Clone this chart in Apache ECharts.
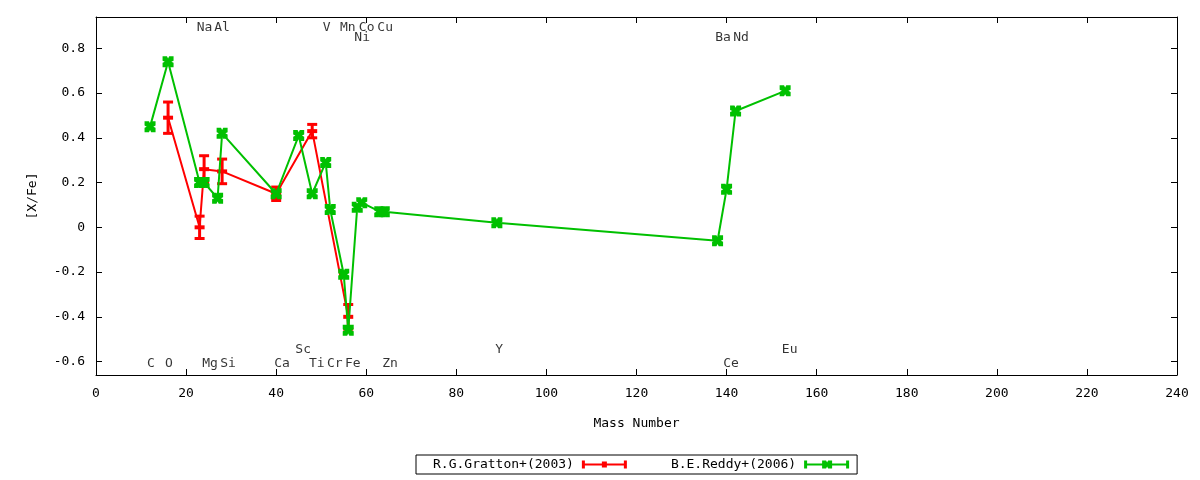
<!DOCTYPE html>
<html><head><meta charset="utf-8">
<script src="https://cdn.jsdelivr.net/npm/echarts@6/dist/echarts.min.js"></script>
<style>html,body{margin:0;padding:0;background:#fff}#c{width:1200px;height:480px}</style>
</head><body><div id="c"></div>
<script>
// Reddy+ (2006)
const greenMass = [12,16,23,24,27,28,40,45,48,51,52,55,56,58,59,63,64,89,138,140,142,153];
const greenVal  = [0.45,0.74,0.20,0.20,0.13,0.42,0.15,0.41,0.15,0.29,0.08,-0.21,-0.46,0.09,0.11,0.07,0.07,0.02,-0.06,0.17,0.52,0.61];
// Gratton+ (2003)
const redMass = [16,23,24,28,40,48,56];
const redVal  = [0.49,0.00,0.26,0.25,0.15,0.43,-0.40];
const redErr  = [0.07,0.05,0.06,0.055,0.03,0.03,0.055];
// element labels
const labelNames = ['Na','Al','V','Mn','Co','Cu','Ni','Ba','Nd','Sc','Y','Eu','C','O','Mg','Si','Ca','Ti','Cr','Fe','Zn','Ce'];
const labelX = [24.1,28.0,51.2,55.9,60.1,64.2,59.1,139.2,143.2,46,89.5,154,12.2,16.2,25.3,29.3,41.3,49,53,57,65.3,141];
const labelY = [0.894,0.894,0.894,0.894,0.894,0.894,0.849,0.849,0.849,-0.545,-0.545,-0.545,-0.608,-0.608,-0.608,-0.608,-0.608,-0.608,-0.608,-0.608,-0.608,-0.608];
const yTicks = [-0.6,-0.4,-0.2,0,0.2,0.4,0.6,0.8];

const FONT = 'DejaVu Sans Mono';
const RED = '#ff0000', GREEN = '#00c000';
const greenSym = 'path://M0,0 L4,0 L5,2 L6,0 L10,0 L10,4 L8,5 L10,6 L10,10 L6,10 L5,8 L4,10 L0,10 L0,6 L2,5 L0,4 Z';
const redIcon = 'path://M0,3h45v2h-45z M0,0h3v8h-3z M42,0h3v8h-3z M20,1h5v6h-5z';
const greenIcon = 'path://M0,3h45v2h-45z M0,0h3v8h-3z M42,0h3v8h-3z M18,0h4l1,2l1,-2h4v3l-1,1l1,1v3h-4l-1,-2l-1,2h-4v-3l1,-1l-1,-1z';

const axisCommon = {
  type: 'value', min: 0, max: 240, interval: 20,
  axisLine: {show: true, onZero: false, lineStyle: {color: '#000', width: 1}},
  axisTick: {show: true, inside: true, length: 6, lineStyle: {color: '#000'}},
  splitLine: {show: false}
};
const yCommon = {
  type: 'value', min: -0.66, max: 0.94,
  axisLine: {show: true, onZero: false, lineStyle: {color: '#000', width: 1}},
  axisTick: {show: true, inside: true, length: 6, customValues: yTicks, lineStyle: {color: '#000'}},
  splitLine: {show: false}
};

const chart = echarts.init(document.getElementById('c'));
chart.setOption({
  animation: false,
  backgroundColor: '#fff',
  grid: {left: 96, right: 23, top: 17, bottom: 105},
  legend: {
    left: 416, top: 455, align: 'right', orient: 'horizontal',
    borderColor: '#000', borderWidth: 1, borderRadius: 0,
    padding: [3, 8, 3, 17], itemGap: 44, itemWidth: 45, itemHeight: 8,
    selectedMode: false,
    textStyle: {fontFamily: FONT, fontSize: 13, color: '#000', padding: [0, 3, 0, 0]},
    data: [
      {name: 'R.G.Gratton+(2003)', icon: redIcon, itemStyle: {color: RED, borderWidth: 0}},
      {name: 'B.E.Reddy+(2006)', icon: greenIcon, itemStyle: {color: GREEN, borderWidth: 0}}
    ]
  },
  xAxis: [
    Object.assign({}, axisCommon, {
      position: 'bottom', name: 'Mass Number', nameLocation: 'middle', nameGap: 42,
      nameTextStyle: {fontFamily: FONT, fontSize: 13, color: '#000'},
      axisLabel: {show: true, margin: 12, fontFamily: FONT, fontSize: 13, color: '#000'}
    }),
    Object.assign({}, axisCommon, {position: 'top', axisLabel: {show: false}})
  ],
  yAxis: [
    Object.assign({}, yCommon, {
      position: 'left', name: '[X/Fe]', nameLocation: 'middle', nameGap: 57, nameRotate: 90,
      nameTextStyle: {fontFamily: FONT, fontSize: 13, color: '#000'},
      axisLabel: {show: true, margin: 11, customValues: yTicks, fontFamily: FONT, fontSize: 13, color: '#000'}
    }),
    Object.assign({}, yCommon, {position: 'right', axisLabel: {show: false}})
  ],
  series: [
    {
      type: 'line', name: 'R.G.Gratton+(2003)', xAxisIndex: 0, yAxisIndex: 0,
      data: redMass.map((m, i) => [m, redVal[i]]),
      symbol: 'none', lineStyle: {color: RED, width: 2}, itemStyle: {color: RED},
      z: 2, silent: true
    },
    {
      type: 'custom', name: 'R.G.Gratton+(2003)', xAxisIndex: 0, yAxisIndex: 0,
      data: redMass.map((m, i) => [m, redVal[i], redErr[i]]),
      encode: {x: 0, y: 1},
      itemStyle: {color: RED},
      z: 3, silent: true,
      renderItem: function (params, api) {
        const x = api.value(0), y = api.value(1), e = api.value(2);
        const p = api.coord([x, y]), hi = api.coord([x, y + e]), lo = api.coord([x, y - e]);
        const st = {fill: RED};
        return {type: 'group', children: [
          {type: 'rect', shape: {x: p[0] - 1.5, y: hi[1], width: 3, height: lo[1] - hi[1]}, style: st},
          {type: 'rect', shape: {x: p[0] - 5, y: hi[1] - 1.5, width: 10, height: 3}, style: st},
          {type: 'rect', shape: {x: p[0] - 5, y: lo[1] - 1.5, width: 10, height: 3}, style: st},
          {type: 'rect', shape: {x: p[0] - 5, y: p[1] - 2, width: 10, height: 4}, style: st}
        ]};
      }
    },
    {
      type: 'line', name: 'B.E.Reddy+(2006)', xAxisIndex: 0, yAxisIndex: 0,
      data: greenMass.map((m, i) => [m, greenVal[i]]),
      symbol: greenSym, symbolSize: 11, showAllSymbol: true,
      lineStyle: {color: GREEN, width: 2}, itemStyle: {color: GREEN, borderWidth: 0},
      z: 4, silent: true
    },
    {
      type: 'scatter', name: 'labels', xAxisIndex: 0, yAxisIndex: 0,
      data: labelNames.map((n, i) => ({name: n, value: [labelX[i], labelY[i]]})),
      symbolSize: 1, itemStyle: {color: 'rgba(0,0,0,0)'},
      label: {show: true, position: 'inside', formatter: '{b}', fontFamily: FONT, fontSize: 13, color: '#000'},
      silent: true, z: 6
    }
  ]
});
</script>
</body></html>
